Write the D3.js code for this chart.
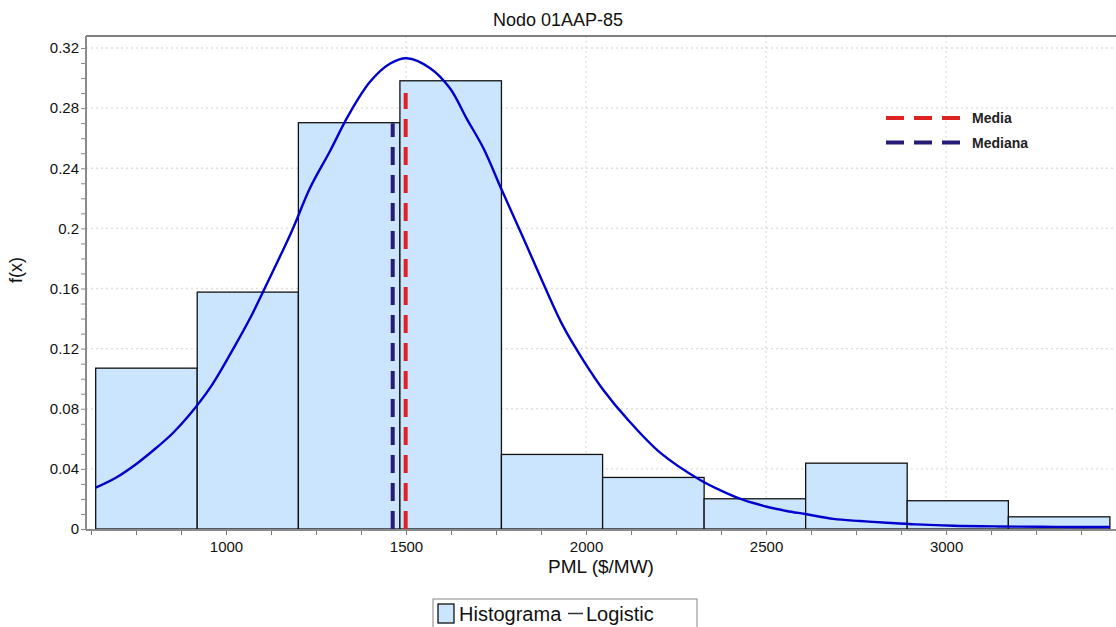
<!DOCTYPE html>
<html><head><meta charset="utf-8">
<script src="https://cdn.jsdelivr.net/npm/d3@7"></script>
<style>
html,body{margin:0;padding:0;background:#fff;overflow:hidden;}
text{font-family:"Liberation Sans",Arial,sans-serif;}
</style></head>
<body>
<svg id="c" width="1116" height="627"></svg>
<script>
// ---- data ----
const title = "Nodo 01AAP-85";
const xLabel = "PML ($/MW)";
const yLabel = "f(x)";
const binEdges = [638, 920, 1201, 1483, 1765, 2046, 2328, 2610, 2892, 3173, 3455];
const binHeights = [0.107, 0.1576, 0.2703, 0.2982, 0.0496, 0.0343, 0.0201, 0.0438, 0.0188, 0.0081];
const curveX = [638, 694, 750, 805, 852, 898, 958, 1018, 1069, 1103, 1182, 1233, 1289, 1340, 1400, 1455, 1502, 1567, 1622, 1668, 1715, 1766, 1826, 1881, 1937, 1992, 2048, 2113, 2205, 2317, 2372, 2437, 2502, 2557, 2613, 2687, 2761, 2835, 2918, 3020, 3150, 3300, 3455];
const curveY = [0.0275, 0.0341, 0.0431, 0.0537, 0.0637, 0.0758, 0.0947, 0.119, 0.1412, 0.1579, 0.1978, 0.2267, 0.2515, 0.2752, 0.2975, 0.3095, 0.3132, 0.3066, 0.2932, 0.2732, 0.2533, 0.2255, 0.1934, 0.1635, 0.1346, 0.1124, 0.0925, 0.0736, 0.051, 0.0326, 0.0259, 0.0193, 0.0148, 0.012, 0.0098, 0.0067, 0.0053, 0.0042, 0.0031, 0.0022, 0.0017, 0.0014, 0.0013];
const statNames = ["Media", "Mediana"];
const statValues = [1499, 1463];
const statTops = [0.29, 0.27];
const xTickLabels = [1000, 1500, 2000, 2500, 3000];
const xGridValues = [1500, 2000, 2500, 3000];
const yTickLabels = [0, 0.04, 0.08, 0.12, 0.16, 0.2, 0.24, 0.28, 0.32];
const legendNames = ["Histograma", "Logistic"];

// ---- layout ----
const svg = d3.select("#c");
const L = 86, R = 1116, T = 36, B = 529;
const x = d3.scaleLinear().domain([611.1, 3472]).range([L, R]);
const y = d3.scaleLinear().domain([0, 0.32]).range([B, 48]);
const statColors = ["#dd2222", "#261b78"];

// title
svg.append("text").attr("x", 558).attr("y", 26).attr("text-anchor", "middle")
  .attr("font-size", 18).attr("fill", "#111").text(title);

// gridlines
const grid = svg.append("g").attr("stroke", "#dedede").attr("stroke-width", 1.3).attr("stroke-dasharray", "2,3");
yTickLabels.filter(d => d > 0).forEach(v => {
  grid.append("line").attr("x1", L).attr("x2", R).attr("y1", y(v)).attr("y2", y(v));
});
xGridValues.forEach(v => {
  grid.append("line").attr("x1", x(v)).attr("x2", x(v)).attr("y1", T).attr("y2", B);
});

// frame
svg.append("line").attr("x1", L).attr("x2", R).attr("y1", T).attr("y2", T).attr("stroke", "#555").attr("stroke-width", 1.5);
svg.append("line").attr("x1", L).attr("x2", L).attr("y1", T).attr("y2", B + 1).attr("stroke", "#8a8a8a").attr("stroke-width", 2);

// bars
const bins = binHeights.map((h, i) => ({x0: binEdges[i], x1: binEdges[i + 1], h}));
svg.append("g").selectAll("rect").data(bins).join("rect")
  .attr("x", d => x(d.x0)).attr("width", d => x(d.x1) - x(d.x0))
  .attr("y", d => y(d.h)).attr("height", d => y(0) - y(d.h))
  .attr("fill", "#cce5ff").attr("stroke", "#111").attr("stroke-width", 1.3);

// stat lines
statValues.forEach((v, i) => {
  svg.append("line").attr("x1", x(v)).attr("x2", x(v)).attr("y1", B).attr("y2", y(statTops[i]))
    .attr("stroke", statColors[i]).attr("stroke-width", 4).attr("stroke-dasharray", "18,10");
});

// curve
const line = d3.line().x(d => x(d[0])).y(d => y(d[1])).curve(d3.curveCatmullRom.alpha(0.5));
svg.append("path").datum(curveX.map((v, i) => [v, curveY[i]]))
  .attr("d", line).attr("fill", "none").attr("stroke", "#0000cc").attr("stroke-width", 2.4);

// x axis
svg.append("line").attr("x1", L).attr("x2", R).attr("y1", B + 1).attr("y2", B + 1).attr("stroke", "#8a8a8a").attr("stroke-width", 2.2);
const xAxis = d3.axisBottom(x).tickValues(d3.range(625, 3472, 125)).tickSize(4)
  .tickFormat(d => xTickLabels.includes(d) ? d : "");
const gx = svg.append("g").attr("transform", `translate(0,${B + 2})`).call(xAxis);
gx.select(".domain").remove();
gx.selectAll(".tick line").attr("stroke", "#777");
gx.selectAll(".tick text").attr("font-size", 15).attr("fill", "#111").attr("font-family", "Liberation Sans, Arial, sans-serif").attr("dy", "0.95em");

// y axis
const yAxis = d3.axisLeft(y).tickValues(d3.range(0, 0.3201, 0.01).map(v => +v.toFixed(2))).tickSize(4)
  .tickFormat(d => yTickLabels.some(t => Math.abs(t - d) < 1e-9) ? d3.format("~g")(d) : "");
const gy = svg.append("g").attr("transform", `translate(${L - 1},0)`).call(yAxis);
gy.select(".domain").remove();
gy.selectAll(".tick line").attr("stroke", "#888");
gy.selectAll(".tick text").attr("font-size", 15).attr("fill", "#111").attr("font-family", "Liberation Sans, Arial, sans-serif").attr("x", -6);

// axis labels
svg.append("text").attr("x", (L + R) / 2).attr("y", 573).attr("text-anchor", "middle")
  .attr("font-size", 19).attr("fill", "#111").text(xLabel);
svg.append("text").attr("transform", "translate(22,270) rotate(-90)").attr("text-anchor", "middle")
  .attr("font-size", 18).attr("fill", "#111").text(yLabel);

// stat legend
statNames.forEach((n, i) => {
  const yy = 118 + i * 24.5;
  svg.append("line").attr("x1", 886).attr("x2", 961).attr("y1", yy).attr("y2", yy)
    .attr("stroke", statColors[i]).attr("stroke-width", 4).attr("stroke-dasharray", "18,10");
  svg.append("text").attr("x", 972).attr("y", yy + 5).attr("font-size", 14).attr("font-weight", "bold")
    .attr("fill", "#222").text(n);
});

// bottom legend
const lg = svg.append("g");
lg.append("rect").attr("x", 433).attr("y", 599).attr("width", 264).attr("height", 32)
  .attr("fill", "#fff").attr("stroke", "#999").attr("stroke-width", 1.2);
lg.append("rect").attr("x", 438).attr("y", 604).attr("width", 16).attr("height", 19)
  .attr("fill", "#cce5ff").attr("stroke", "#111").attr("stroke-width", 1.3);
lg.append("text").attr("x", 459).attr("y", 621).attr("font-size", 20).attr("fill", "#111").text(legendNames[0]);
lg.append("line").attr("x1", 568).attr("x2", 583).attr("y1", 613.5).attr("y2", 613.5).attr("stroke", "#333").attr("stroke-width", 1.5);
lg.append("text").attr("x", 586).attr("y", 621).attr("font-size", 20).attr("fill", "#111").text(legendNames[1]);
</script>
</body></html>
